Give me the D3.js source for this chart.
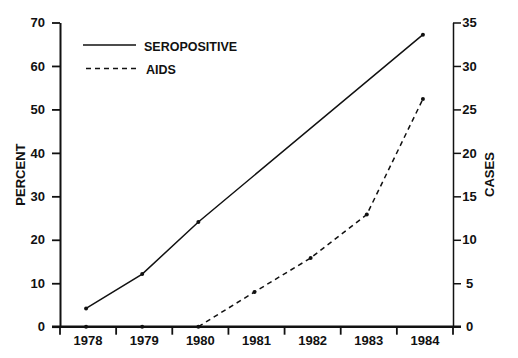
<!DOCTYPE html>
<html>
<head>
<meta charset="utf-8">
<script src="https://cdn.jsdelivr.net/npm/d3@7"></script>
<style>
  html, body { margin: 0; padding: 0; background: #fff; }
  svg text { font-family: "Liberation Sans", Arial, sans-serif; font-weight: bold; fill: #111; }
</style>
</head>
<body>
<svg id="chart" width="518" height="358"></svg>
<script>
// ---- data ----
const years = ["1978", "1979", "1980", "1981", "1982", "1983", "1984"];
const seroYears = ["1978", "1979", "1980", "1984"];
const seroPercent = [4.2, 12.1, 24.1, 67.2];
const aidsYears = ["1978", "1979", "1980", "1981", "1982", "1983", "1984"];
const aidsCases = [0, 0, 0, 4.0, 7.9, 12.9, 26.2];
const percentTicks = [0, 10, 20, 30, 40, 50, 60, 70];
const casesTicks = [0, 5, 10, 15, 20, 25, 30, 35];
const legendLabels = ["SEROPOSITIVE", "AIDS"];

// ---- layout ----
const svg = d3.select("#chart");
const mLeft = 60, mRight = 453, mTop = 22.5, mBottom = 326.7;

const x = d3.scaleBand().domain(years).range([mLeft, mRight]).paddingInner(0).paddingOuter(0);
const xc = d => x(d) + x.bandwidth() / 2 - 2;
const yL = d3.scaleLinear().domain([0, 70]).range([mBottom, mTop]);
const yR = d3.scaleLinear().domain([0, 35]).range([mBottom, mTop]);

// left axis
const gL = svg.append("g").attr("transform", `translate(${mLeft},0)`)
  .call(d3.axisLeft(yL).tickValues(percentTicks).tickSize(8).tickPadding(7).tickSizeOuter(0));
gL.select(".domain").attr("stroke", "#111").attr("stroke-width", 2);
gL.selectAll(".tick line").attr("stroke", "#111").attr("stroke-width", 1.8);
gL.selectAll(".tick text").style("font-size", "13px").attr("fill", "#111");

// right axis
const gR = svg.append("g").attr("transform", `translate(${mRight},0)`)
  .call(d3.axisRight(yR).tickValues(casesTicks).tickSize(8).tickPadding(9).tickSizeOuter(0));
gR.select(".domain").attr("stroke", "#111").attr("stroke-width", 1.5);
gR.selectAll(".tick line").attr("stroke", "#111").attr("stroke-width", 1.5);
gR.selectAll(".tick text").style("font-size", "13px").attr("fill", "#111")
  .attr("text-anchor", "middle").attr("x", 16.5);

// bottom axis: tick marks at band boundaries
svg.append("line").attr("x1", mLeft - 8).attr("x2", mRight + 8)
  .attr("y1", mBottom).attr("y2", mBottom).attr("stroke", "#111").attr("stroke-width", 2.6);
const bounds = years.map(d => x(d)).concat([mRight]);
svg.append("g").selectAll("line").data(bounds).join("line")
  .attr("x1", d => d).attr("x2", d => d)
  .attr("y1", mBottom).attr("y2", mBottom + 8)
  .attr("stroke", "#111").attr("stroke-width", 1.8);
svg.append("g").selectAll("text").data(years).join("text")
  .attr("x", d => x(d) + x.bandwidth() / 2)
  .attr("y", mBottom + 18.5)
  .attr("text-anchor", "middle")
  .style("font-size", "13px")
  .text(d => d);

// axis titles
svg.append("text").attr("transform", `translate(25,${(mTop + mBottom) / 2}) rotate(-90)`)
  .attr("text-anchor", "middle").style("font-size", "13px").text("PERCENT");
svg.append("text").attr("transform", `translate(494,${(mTop + mBottom) / 2}) rotate(-90)`)
  .attr("text-anchor", "middle").style("font-size", "13px").text("CASES");

// series
const sero = seroYears.map((d, i) => ({ x: d, y: seroPercent[i] }));
const aids = aidsYears.map((d, i) => ({ x: d, y: aidsCases[i] }));

svg.append("path").datum(sero)
  .attr("fill", "none").attr("stroke", "#111").attr("stroke-width", 1.5)
  .attr("d", d3.line().x(d => xc(d.x)).y(d => yL(d.y)));
svg.append("path").datum(aids.filter(d => +d.x >= 1980))
  .attr("fill", "none").attr("stroke", "#111").attr("stroke-width", 1.5)
  .attr("stroke-dasharray", "5,4")
  .attr("d", d3.line().x(d => xc(d.x)).y(d => yR(d.y)));

svg.append("g").selectAll("circle").data(sero).join("circle")
  .attr("cx", d => xc(d.x)).attr("cy", d => yL(d.y)).attr("r", 2).attr("fill", "#111");
svg.append("g").selectAll("circle").data(aids).join("circle")
  .attr("cx", d => xc(d.x)).attr("cy", d => yR(d.y)).attr("r", 2).attr("fill", "#111");

// legend
const lg = svg.append("g");
lg.append("line").attr("x1", 83).attr("x2", 136).attr("y1", 45).attr("y2", 45)
  .attr("stroke", "#111").attr("stroke-width", 1.5);
lg.append("line").attr("x1", 86).attr("x2", 136).attr("y1", 68.5).attr("y2", 68.5)
  .attr("stroke", "#111").attr("stroke-width", 1.5).attr("stroke-dasharray", "5,4");
lg.append("text").attr("x", 144).attr("y", 50.5).style("font-size", "12.5px").text(legendLabels[0]);
lg.append("text").attr("x", 146).attr("y", 73.5).style("font-size", "12.5px").text(legendLabels[1]);
</script>
</body>
</html>
